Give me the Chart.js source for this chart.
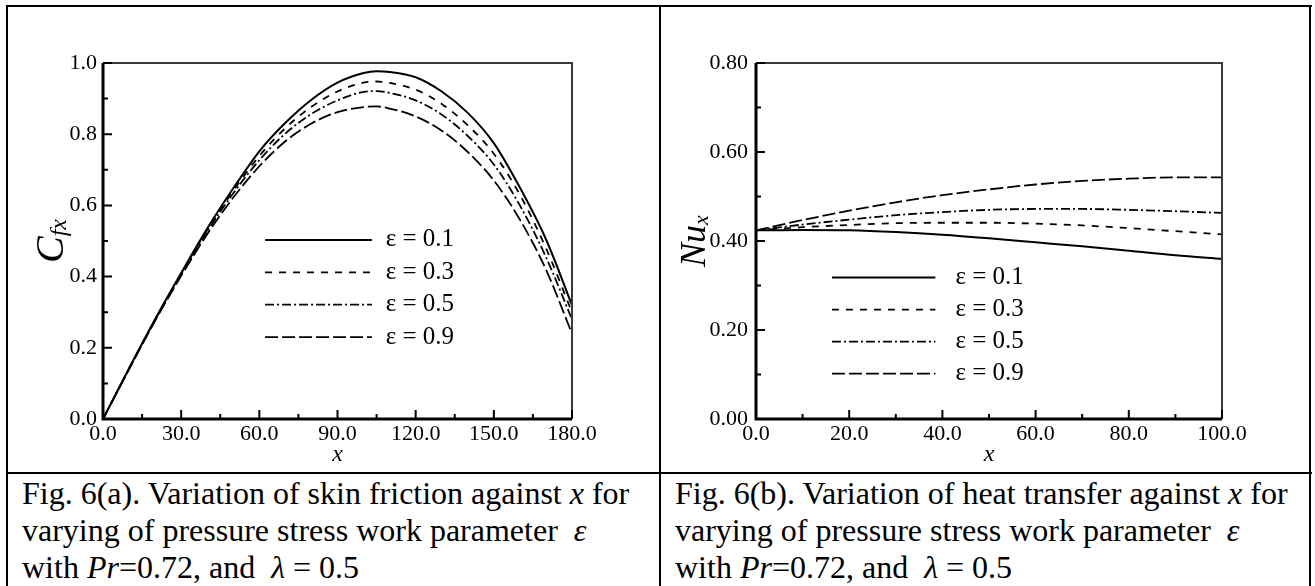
<!DOCTYPE html>
<html><head><meta charset="utf-8">
<script src="https://cdn.jsdelivr.net/npm/chart.js@4.4.1/dist/chart.umd.min.js"></script>
<style>
html,body{margin:0;padding:0;background:#fff;}
#page{position:relative;width:1315px;height:586px;overflow:hidden;background:#fff;font-family:"Liberation Serif","Times New Roman",serif;}
.b{position:absolute;background:#000;}
.cap{position:absolute;font-size:32px;line-height:37px;color:#000;white-space:nowrap;}
canvas{position:absolute;}
</style></head>
<body><div id="page">
<div class="b" style="left:6px;top:5px;width:1306px;height:2px"></div>
<div class="b" style="left:6px;top:5px;width:2px;height:581px"></div>
<div class="b" style="left:659px;top:5px;width:2px;height:581px"></div>
<div class="b" style="left:1309px;top:5px;width:2px;height:581px"></div>
<div class="b" style="left:6px;top:472px;width:1306px;height:2px"></div>
<canvas id="c1" width="650" height="464" style="left:9px;top:8px"></canvas>
<canvas id="c2" width="647" height="464" style="left:662px;top:8px"></canvas>
<div class="cap" style="left:22px;top:475px">Fig. 6(a). Variation of skin friction against <i>x</i> for<br>varying of pressure stress work parameter &nbsp;<i>ε</i><br>with <i>Pr</i>=0.72, and &nbsp;<i>λ</i> = 0.5</div>
<div class="cap" style="left:675px;top:475px">Fig. 6(b). Variation of heat transfer against <i>x</i> for<br>varying of pressure stress work parameter &nbsp;<i>ε</i><br>with <i>Pr</i>=0.72, and &nbsp;<i>λ</i> = 0.5</div>
</div>
<script>
// ---------- data ----------
const epsLabels = ['ε = 0.1', 'ε = 0.3', 'ε = 0.5', 'ε = 0.9'];

const xLeft    = [0,10,20,30,40,50,60,70,80,90,100,105,110,120,130,140,150,160,170,180];
const cfxEps01 = [0,0.142,0.280,0.410,0.535,0.648,0.752,0.832,0.897,0.945,0.972,0.977,0.975,0.960,0.920,0.860,0.775,0.650,0.505,0.320];
const cfxEps03 = [0,0.142,0.279,0.408,0.531,0.641,0.739,0.817,0.877,0.920,0.945,0.948,0.944,0.925,0.885,0.825,0.745,0.630,0.480,0.300];
const cfxEps05 = [0,0.141,0.278,0.406,0.527,0.634,0.727,0.802,0.857,0.895,0.919,0.921,0.916,0.895,0.855,0.795,0.715,0.600,0.455,0.280];
const cfxEps09 = [0,0.140,0.276,0.402,0.519,0.622,0.710,0.780,0.830,0.862,0.876,0.878,0.872,0.850,0.810,0.750,0.670,0.560,0.420,0.240];

const xRight  = [0,10,20,30,40,50,60,70,80,90,100];
const nuEps01 = [0.424,0.425,0.424,0.420,0.414,0.406,0.397,0.388,0.378,0.368,0.360];
const nuEps03 = [0.424,0.431,0.436,0.440,0.441,0.441,0.439,0.435,0.429,0.422,0.415];
const nuEps05 = [0.424,0.437,0.448,0.458,0.465,0.470,0.472,0.472,0.470,0.467,0.463];
const nuEps09 = [0.424,0.447,0.468,0.487,0.503,0.516,0.527,0.535,0.540,0.543,0.543];

const xTicksLeft  = [0,30,60,90,120,150,180];
const yTicksLeft  = [0,0.2,0.4,0.6,0.8,1.0];
const xTicksRight = [0,20,40,60,80,100];
const yTicksRight = [0,0.2,0.4,0.6,0.8];

// ---------- styles ----------
const lineStyles = [
  {borderDash: [], borderWidth: 2},
  {borderDash: [7,7], borderWidth: 1.8},
  {borderDash: [9,3,2,3], borderWidth: 1.8},
  {borderDash: [13,4], borderWidth: 1.8}
];
const FONT = '"Liberation Serif","Times New Roman",serif';

function pts(xs, ys){ return xs.map((x,i)=>({x:x, y:ys[i]})); }

const framePlugin = {
  id: 'frame',
  afterDatasetsDraw(chart, args, o) {
    const {ctx, chartArea: a, scales: {x, y}} = chart;
    ctx.save();
    ctx.setLineDash([]);
    ctx.strokeStyle = '#3a3a3a'; ctx.lineWidth = 2;
    ctx.beginPath(); ctx.moveTo(a.left, a.top); ctx.lineTo(a.right, a.top); ctx.lineTo(a.right, a.bottom); ctx.stroke();
    ctx.strokeStyle = '#000'; ctx.lineWidth = 3;
    ctx.beginPath(); ctx.moveTo(a.left, a.top); ctx.lineTo(a.left, a.bottom); ctx.lineTo(a.right, a.bottom); ctx.stroke();
    ctx.lineWidth = 2;
    const xv = x.ticks.map(t => t.value), yv = y.ticks.map(t => t.value);
    ctx.beginPath();
    xv.forEach((v, i) => {
      const p = x.getPixelForValue(v);
      ctx.moveTo(p, a.bottom); ctx.lineTo(p, a.bottom - o.major);
      if (i < xv.length - 1) { const m = x.getPixelForValue((v + xv[i+1]) / 2); ctx.moveTo(m, a.bottom); ctx.lineTo(m, a.bottom - o.minor); }
    });
    yv.forEach((v, i) => {
      const p = y.getPixelForValue(v);
      ctx.moveTo(a.left, p); ctx.lineTo(a.left + o.major, p);
      if (i < yv.length - 1) { const m = y.getPixelForValue((v + yv[i+1]) / 2); ctx.moveTo(a.left, m); ctx.lineTo(a.left + o.minor, m); }
    });
    ctx.stroke();
    ctx.restore();
  }
};

const legendPlugin = {
  id: 'legendIn',
  afterDatasetsDraw(chart, args, o) {
    const {ctx, scales: {x, y}} = chart;
    chart.data.datasets.forEach((ds, i) => {
      const yy = y.getPixelForValue(o.y0 - i * o.dy);
      ctx.save();
      ctx.strokeStyle = '#000'; ctx.lineWidth = ds.borderWidth; ctx.setLineDash(ds.borderDash || []);
      ctx.beginPath(); ctx.moveTo(x.getPixelForValue(o.x0), yy); ctx.lineTo(x.getPixelForValue(o.x1), yy); ctx.stroke();
      ctx.setLineDash([]);
      ctx.fillStyle = '#000'; ctx.font = o.font; ctx.textBaseline = 'middle'; ctx.textAlign = 'left';
      ctx.fillText(ds.label, x.getPixelForValue(o.xt), yy);
      ctx.restore();
    });
  }
};

const titlePlugin = {
  id: 'titles',
  afterDraw(chart, args, o) {
    const {ctx, chartArea: a} = chart;
    ctx.save();
    ctx.fillStyle = '#000';
    ctx.font = o.xFont; ctx.textAlign = 'center'; ctx.textBaseline = 'middle';
    ctx.fillText(o.xText, (a.left + a.right) / 2, a.bottom + o.xOffset);
    ctx.translate(o.yX, o.yY); ctx.rotate(-Math.PI / 2);
    ctx.textAlign = 'left'; ctx.textBaseline = 'alphabetic';
    ctx.font = o.yFont; ctx.fillText(o.yMain, 0, 0);
    const w = ctx.measureText(o.yMain).width;
    ctx.font = o.ySubFont; ctx.fillText(o.ySub, w + o.subGap, o.subDrop);
    ctx.restore();
  }
};

function makeChart(id, xs, series, xTicks, yTicks, xmax, ymax, xDec, yDec, yPad, legendOpts, titleOpts) {
  const datasets = series.map((s, i) => Object.assign({
    label: epsLabels[i],
    data: pts(xs, s),
    borderColor: '#000',
    backgroundColor: '#000',
    pointRadius: 0,
    fill: false,
    cubicInterpolationMode: 'monotone'
  }, lineStyles[i]));
  return new Chart(document.getElementById(id), {
    type: 'line',
    data: {datasets},
    options: {
      responsive: false,
      animation: false,
      devicePixelRatio: 1,
      layout: {padding: {left: 0, top: 55, right: 87, bottom: 0}},
      plugins: {
        legend: {display: false},
        tooltip: {enabled: false},
        frame: {major: 9, minor: 5},
        legendIn: legendOpts,
        titles: titleOpts
      },
      scales: {
        x: {
          type: 'linear', min: 0, max: xmax,
          afterBuildTicks: s => { s.ticks = xTicks.map(v => ({value: v})); },
          afterFit: s => { s.height = 53; },
          grid: {display: false, drawTicks: false},
          border: {display: false},
          ticks: {padding: 2, color: '#000', font: {family: FONT, size: 22}, maxRotation: 0, autoSkip: false,
                  callback: v => Number(v).toFixed(xDec)}
        },
        y: {
          type: 'linear', min: 0, max: ymax,
          afterBuildTicks: s => { s.ticks = yTicks.map(v => ({value: v})); },
          afterFit: s => { s.width = 94; },
          grid: {display: false, drawTicks: false},
          border: {display: false},
          ticks: {padding: yPad, color: '#000', font: {family: FONT, size: 22}, autoSkip: false,
                  callback: v => Number(v).toFixed(yDec)}
        }
      }
    },
    plugins: [framePlugin, legendPlugin, titlePlugin]
  });
}

makeChart('c1', xLeft, [cfxEps01, cfxEps03, cfxEps05, cfxEps09], xTicksLeft, yTicksLeft, 180, 1.0, 1, 1, 6,
  {x0: 62.2, x1: 103.2, xt: 108.5, y0: 0.503, dy: 0.091, font: '25px ' + FONT},
  {xText: 'x', xFont: 'italic 24px ' + FONT, xOffset: 36,
   yMain: 'C', ySub: 'fx', yFont: 'italic 40px ' + FONT, ySubFont: 'italic 24px ' + FONT,
   yX: 54, yY: 255, subGap: 0, subDrop: 3});

makeChart('c2', xRight, [nuEps01, nuEps03, nuEps05, nuEps09], xTicksRight, yTicksRight, 100, 0.8, 1, 2, 8,
  {x0: 16.3, x1: 38.5, xt: 42.8, y0: 0.318, dy: 0.072, font: '25px ' + FONT},
  {xText: 'x', xFont: 'italic 24px ' + FONT, xOffset: 36,
   yMain: 'Nu', ySub: 'x', yFont: 'italic 36px ' + FONT, ySubFont: 'italic 22px ' + FONT,
   yX: 43, yY: 259, subGap: 0, subDrop: 3});
</script>
</body></html>
